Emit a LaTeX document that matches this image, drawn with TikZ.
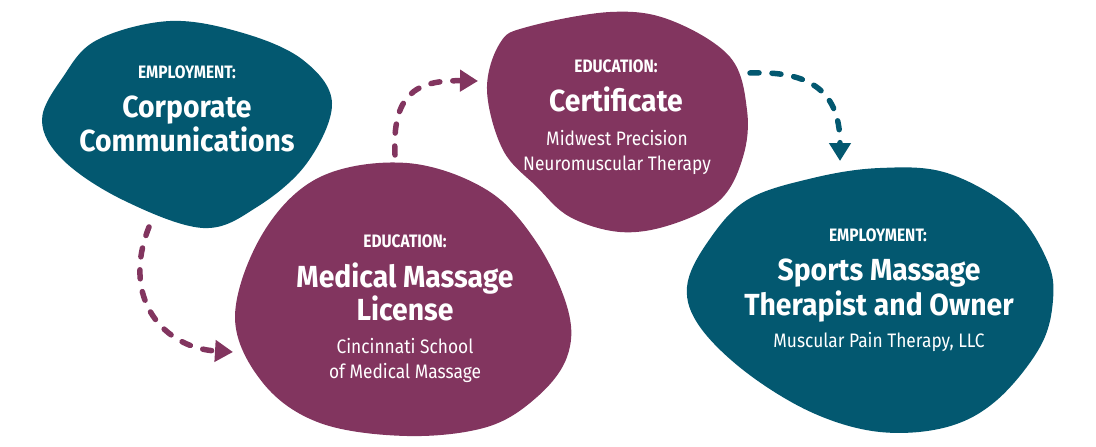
\documentclass[tikz,border=0pt]{standalone}
\usepackage{fontspec}
\setmainfont{Fira Sans}
\newfontfamily\headfont{Fira Sans}[FakeStretch=0.93]
\newfontfamily\subfont{Fira Sans}[FakeStretch=0.89]
\newfontfamily\lblfont{Fira Sans}[FakeStretch=0.86]
\usetikzlibrary{arrows.meta}
\definecolor{tealc}{RGB}{3,88,112}
\definecolor{plumc}{RGB}{130,53,95}
\tikzset{
  lbl/.style={text=white, anchor=base, inner sep=0pt, font=\lblfont\fontsize{18}{20}\selectfont\bfseries},
  head/.style={text=white, anchor=base, inner sep=0pt, font=\headfont\fontsize{30.5}{34}\selectfont\bfseries},
  sub/.style={text=white, anchor=base, inner sep=0pt, font=\subfont\fontsize{19.5}{24}\selectfont},
  flow/.style={line width=5.5pt, dash pattern=on 9pt off 13pt, line cap=round,
    -{Triangle[length=18pt,width=21pt]}}
}
\begin{document}
\begin{tikzpicture}[x=1pt,y=-1pt]
\useasboundingbox (0,0) rectangle (1096,447);
% blob 1 (teal, top left)
\fill[tealc] plot[smooth cycle, tension=0.6] coordinates {
 (170,21) (243,33) (303,60) (332,103) (307,163) (257,207) (203,228)
 (123,200) (63,160) (42,120) (63,77) (97,40)};
% blob 2 (plum, middle)
\fill[plumc] plot[smooth cycle, tension=0.6] coordinates {
 (407,163) (487,190) (537,243) (568,310) (567,357) (537,397) (487,427)
 (407,436) (320,423) (263,383) (235,317) (263,233) (320,177)};
% blob 3 (plum, top)
\fill[plumc] plot[smooth cycle, tension=0.6] coordinates {
 (527,27) (610,12) (670,20) (730,57) (747,110) (743,157) (720,200)
 (670,225) (620,232) (570,217) (537,187) (503,150) (487,90) (500,43)};
% blob 4 (teal, right)
\fill[tealc] plot[smooth cycle, tension=0.6] coordinates {
 (880,168) (947,173) (1013,210) (1047,260) (1053,300) (1040,347) (997,400)
 (947,427) (880,432) (813,413) (747,373) (700,327) (687,287) (707,243)
 (747,200) (813,178)};

% texts blob 1
\node[lbl]  (b1l)  at (187,78)  {EMPLOYMENT:};
\node[head] (b1h1) at (187,117) {Corporate};
\node[head] (b1h2) at (187,151) {Communications};
% texts blob 2
\node[lbl]  (b2l)  at (405,247) {EDUCATION:};
\node[head] (b2h1) at (405,287) {Medical Massage};
\node[head] (b2h2) at (405,320) {License};
\node[sub]  (b2s1) at (405,353) {Cincinnati School};
\node[sub]  (b2s2) at (405,378) {of Medical Massage};
% texts blob 3
\node[lbl]  (b3l)  at (616,72)  {EDUCATION:};
\node[head] (b3h1) at (616,111) {Certificate};
\node[sub]  (b3s1) at (617,145) {Midwest Precision};
\node[sub]  (b3s2) at (617,170) {Neuromuscular Therapy};
% texts blob 4
\node[lbl]  (b4l)  at (878,241) {EMPLOYMENT:};
\node[head] (b4h1) at (879,280) {Sports Massage};
\node[head] (b4h2) at (879,315) {Therapist and Owner};
\node[sub]  (b4s1) at (879,347) {Muscular Pain Therapy, LLC};

% connector ends
\coordinate (a1s) at (149,227);
\coordinate (a1e) at (233,352);
\coordinate (a2s) at (395,155);
\coordinate (a2e) at (478,81);
\coordinate (a3s) at (750,73);
\coordinate (a3e) at (840,161);

\draw[flow, plumc] (a1s) .. controls (120,300) and (165,348) .. (a1e);
\draw[flow, plumc] (a2s) .. controls (392,95) and (415,80) .. (a2e);
\draw[flow, tealc] (a3s) .. controls (820,70) and (840,100) .. (a3e);
\end{tikzpicture}
\end{document}
